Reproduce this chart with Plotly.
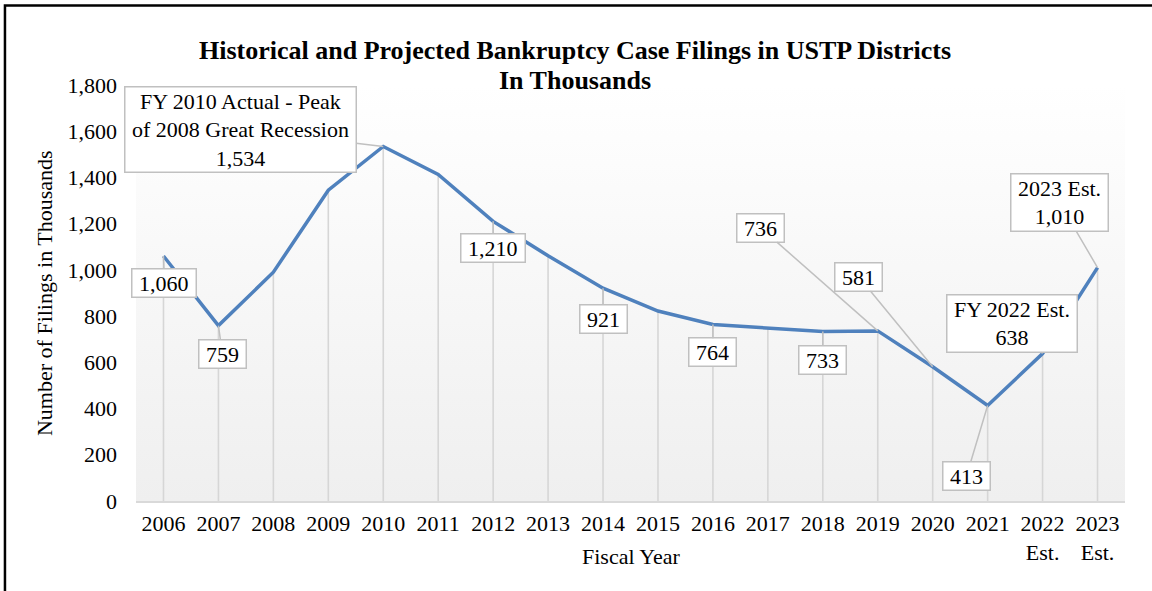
import plotly.graph_objects as go
import base64

years = ["2006", "2007", "2008", "2009", "2010", "2011", "2012", "2013", "2014",
         "2015", "2016", "2017", "2018", "2019", "2020", "2021", "2022<br>Est.", "2023<br>Est."]
filings = [1060, 759, 990, 1345, 1534, 1413, 1210, 1061, 921,
           822, 764, 749, 733, 736, 581, 413, 638, 1010]

# callout labels: (category index, text, x offset px, y offset px)
label_idx = [0, 1, 4, 6, 8, 10, 12, 13, 14, 15, 16, 17]
label_text = ["1,060", "759", "FY 2010 Actual - Peak<br>of 2008 Great Recession<br>1,534",
              "1,210", "921", "764", "733", "736", "581", "413",
              "FY 2022 Est.<br>638", "2023 Est.<br>1,010"]
label_ax = [1, 4, -143, 0, 0, 0, 0, -117, -74, -21, -31, -38]
label_ay = [27, 28, -17, 27, 31, 28, 28, -103, -90, 70, -30, -65]

title_lines = ["Historical and Projected Bankruptcy Case Filings in USTP Districts", "In Thousands"]

FONT = "Liberation Serif, Times New Roman, serif"
NB = "&nbsp;"

fig = go.Figure()

# vertical drop lines
fig.add_trace(go.Scatter(
    x=years, y=filings, mode="markers",
    marker=dict(size=1, color="rgba(0,0,0,0)"),
    error_y=dict(type="data", symmetric=False, array=[0] * len(filings),
                 arrayminus=filings, color="#d6d6d6", thickness=1.6, width=0),
    hoverinfo="skip", showlegend=False))

fig.add_trace(go.Scatter(
    x=years, y=filings, mode="lines",
    line=dict(color="#4F81BD", width=3.5), showlegend=False))

annotations = []
for i, t, ax, ay in zip(label_idx, label_text, label_ax, label_ay):
    annotations.append(dict(
        x=i, y=filings[i], xref="x", yref="y", text=NB + t.replace("<br>", NB + "<br>" + NB) + NB,
        showarrow=True, arrowhead=0, arrowwidth=1.5, arrowcolor="#c0c0c0",
        ax=ax, ay=ay, bgcolor="white", bordercolor="#c0c0c0", borderwidth=1.5,
        borderpad=1, font=dict(family=FONT, size=22, color="black")))

for txt, ty in zip(title_lines, [1.084, 1.012]):
    annotations.append(dict(text="<b>" + txt + "</b>", xref="paper", yref="paper",
                            x=0.444, y=ty, xanchor="center", yanchor="middle", showarrow=False,
                            font=dict(family=FONT, size=26, color="black")))

annotations.append(dict(text="Fiscal Year", xref="paper", yref="paper",
                        x=0.5, y=-0.133, xanchor="center", yanchor="middle",
                        showarrow=False, font=dict(family=FONT, size=22, color="black")))
annotations.append(dict(text="Number of Filings in Thousands", xref="paper", yref="paper",
                        x=-0.093, y=0.5, xanchor="center", yanchor="middle", textangle=-90,
                        showarrow=False, font=dict(family=FONT, size=22, color="black")))

svg = ('<svg xmlns="http://www.w3.org/2000/svg" width="100" height="100" preserveAspectRatio="none">'
       '<defs><linearGradient id="g" x1="0" y1="0" x2="0" y2="1">'
       '<stop offset="0" stop-color="#ffffff"/><stop offset="1" stop-color="#efefef"/>'
       '</linearGradient></defs><rect width="100" height="100" fill="url(#g)"/></svg>')
src = "data:image/svg+xml;base64," + base64.b64encode(svg.encode()).decode()

fig.update_layout(
    width=1152, height=591,
    margin=dict(l=136, r=27, t=85, b=90, autoexpand=False),
    paper_bgcolor="white", plot_bgcolor="rgba(0,0,0,0)",
    font=dict(family=FONT, size=22, color="black"),
    xaxis=dict(type="category", range=[-0.5, len(years) - 0.5], autorange=False,
               showgrid=False, zeroline=False, showline=True, automargin=False,
               linecolor="#d9d9d9", linewidth=2, ticks="", tickfont=dict(size=22),
               ticklabelstandoff=2, fixedrange=True),
    yaxis=dict(range=[0, 1800], autorange=False, dtick=200, tickformat=",", showgrid=False,
               zeroline=False, showline=False, ticks="", ticklabelstandoff=18,
               automargin=False, tickfont=dict(size=22), fixedrange=True),
    annotations=annotations,
    images=[dict(source=src, xref="paper", yref="paper", x=0, y=1, sizex=1, sizey=1,
                 sizing="stretch", layer="below", xanchor="left", yanchor="top")],
    shapes=[dict(type="rect", xref="paper", yref="paper",
                 x0=-0.1325, x1=1.05, y0=-0.3, y1=1.191,
                 line=dict(color="black", width=2.5), fillcolor="rgba(0,0,0,0)", layer="above")],
)

fig.write_html("out.html", config={"displayModeBar": False},
               post_script="document.body.style.margin='0';")
